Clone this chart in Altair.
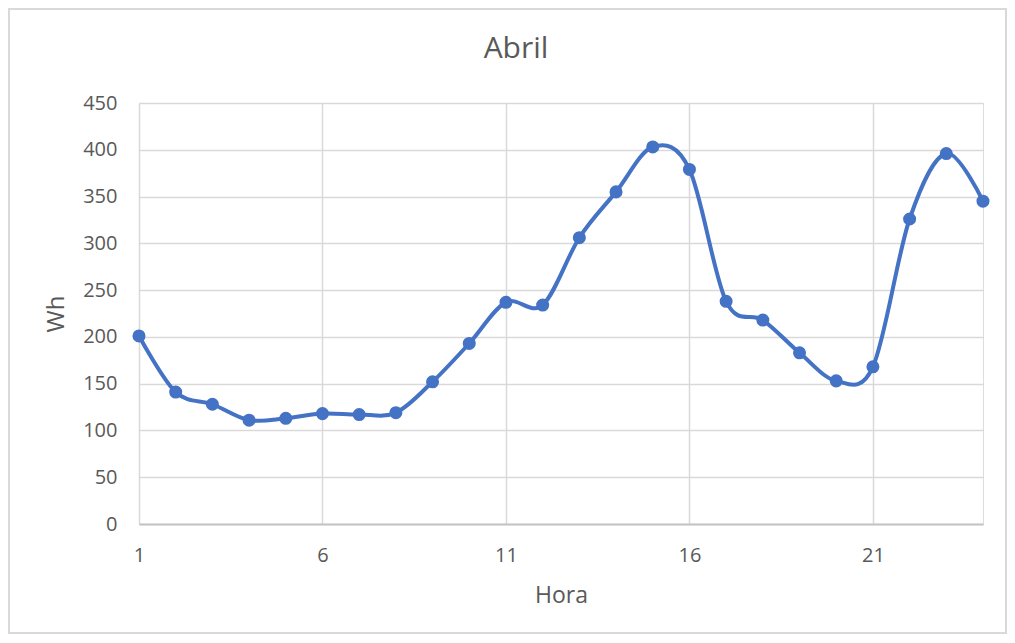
import altair as alt
import pandas as pd

hours = list(range(1, 25))
wh = [201, 141, 128, 111, 113, 118, 117, 119, 152, 193, 237, 234,
      306, 355, 403, 379, 238, 218, 183, 153, 168, 326, 396, 345]
x_ticks = [1, 6, 11, 16, 21]
y_ticks = [0, 50, 100, 150, 200, 250, 300, 350, 400, 450]

df = pd.DataFrame({"Hora": hours, "Wh": wh})

FONT = "Open Sans"
TXT = "#595959"
BLUE = "#4472C4"

W, H = 844, 421
PL, PT, PR, PB = 131, 95, 24, 110

x = alt.X("Hora:Q",
          scale=alt.Scale(domain=[1, 24], nice=False, zero=False),
          axis=alt.Axis(values=x_ticks, title="Hora", grid=True,
                        gridColor="#d9d9d9", gridWidth=1.5,
                        domainColor="#c4c4c4", domainWidth=2,
                        ticks=False, labelFontSize=20, labelColor=TXT,
                        labelFont=FONT, labelPadding=21, labelFlush=False,
                        titleFontSize=23, titleFont=FONT, titleColor=TXT,
                        titleFontWeight="normal", titlePadding=19))
y = alt.Y("Wh:Q",
          scale=alt.Scale(domain=[0, 450], nice=False),
          axis=alt.Axis(values=y_ticks, title="Wh", grid=True,
                        gridColor="#d9d9d9", gridWidth=1.5,
                        domain=False, ticks=False, labelFontSize=20,
                        labelColor=TXT, labelFont=FONT, labelPadding=22,
                        labelFlush=False,
                        titleFontSize=24, titleFont=FONT, titleColor=TXT,
                        titleFontWeight="normal", titlePadding=14))

line = alt.Chart(df).mark_line(color=BLUE, strokeWidth=4,
                               interpolate="cardinal").encode(x=x, y=y)
pts = alt.Chart(df).mark_point(color=BLUE, filled=True, opacity=1,
                               size=170).encode(x="Hora:Q", y="Wh:Q")

border = alt.Chart(pd.DataFrame({"b": [0]})).mark_rect(
    fill="white", fillOpacity=0, stroke="#d9d9d9", strokeWidth=2
).encode(x=alt.value(-PL + 1), x2=alt.value(W + PR - 1),
         y=alt.value(-PT + 1), y2=alt.value(H + PB - 1))

chart = alt.layer(border, line, pts).properties(
    width=W, height=H,
    autosize=alt.AutoSizeParams(type="none"),
    padding={"left": PL, "top": PT, "right": PR, "bottom": PB},
    title=alt.TitleParams("Abril", fontSize=30, font=FONT, color=TXT,
                          fontWeight="normal", anchor="middle",
                          frame="group", dx=-45, offset=-56),
).configure_view(stroke=None).configure(background="white")

chart.save("out.html", embed_options={"renderer": "svg", "actions": False})
